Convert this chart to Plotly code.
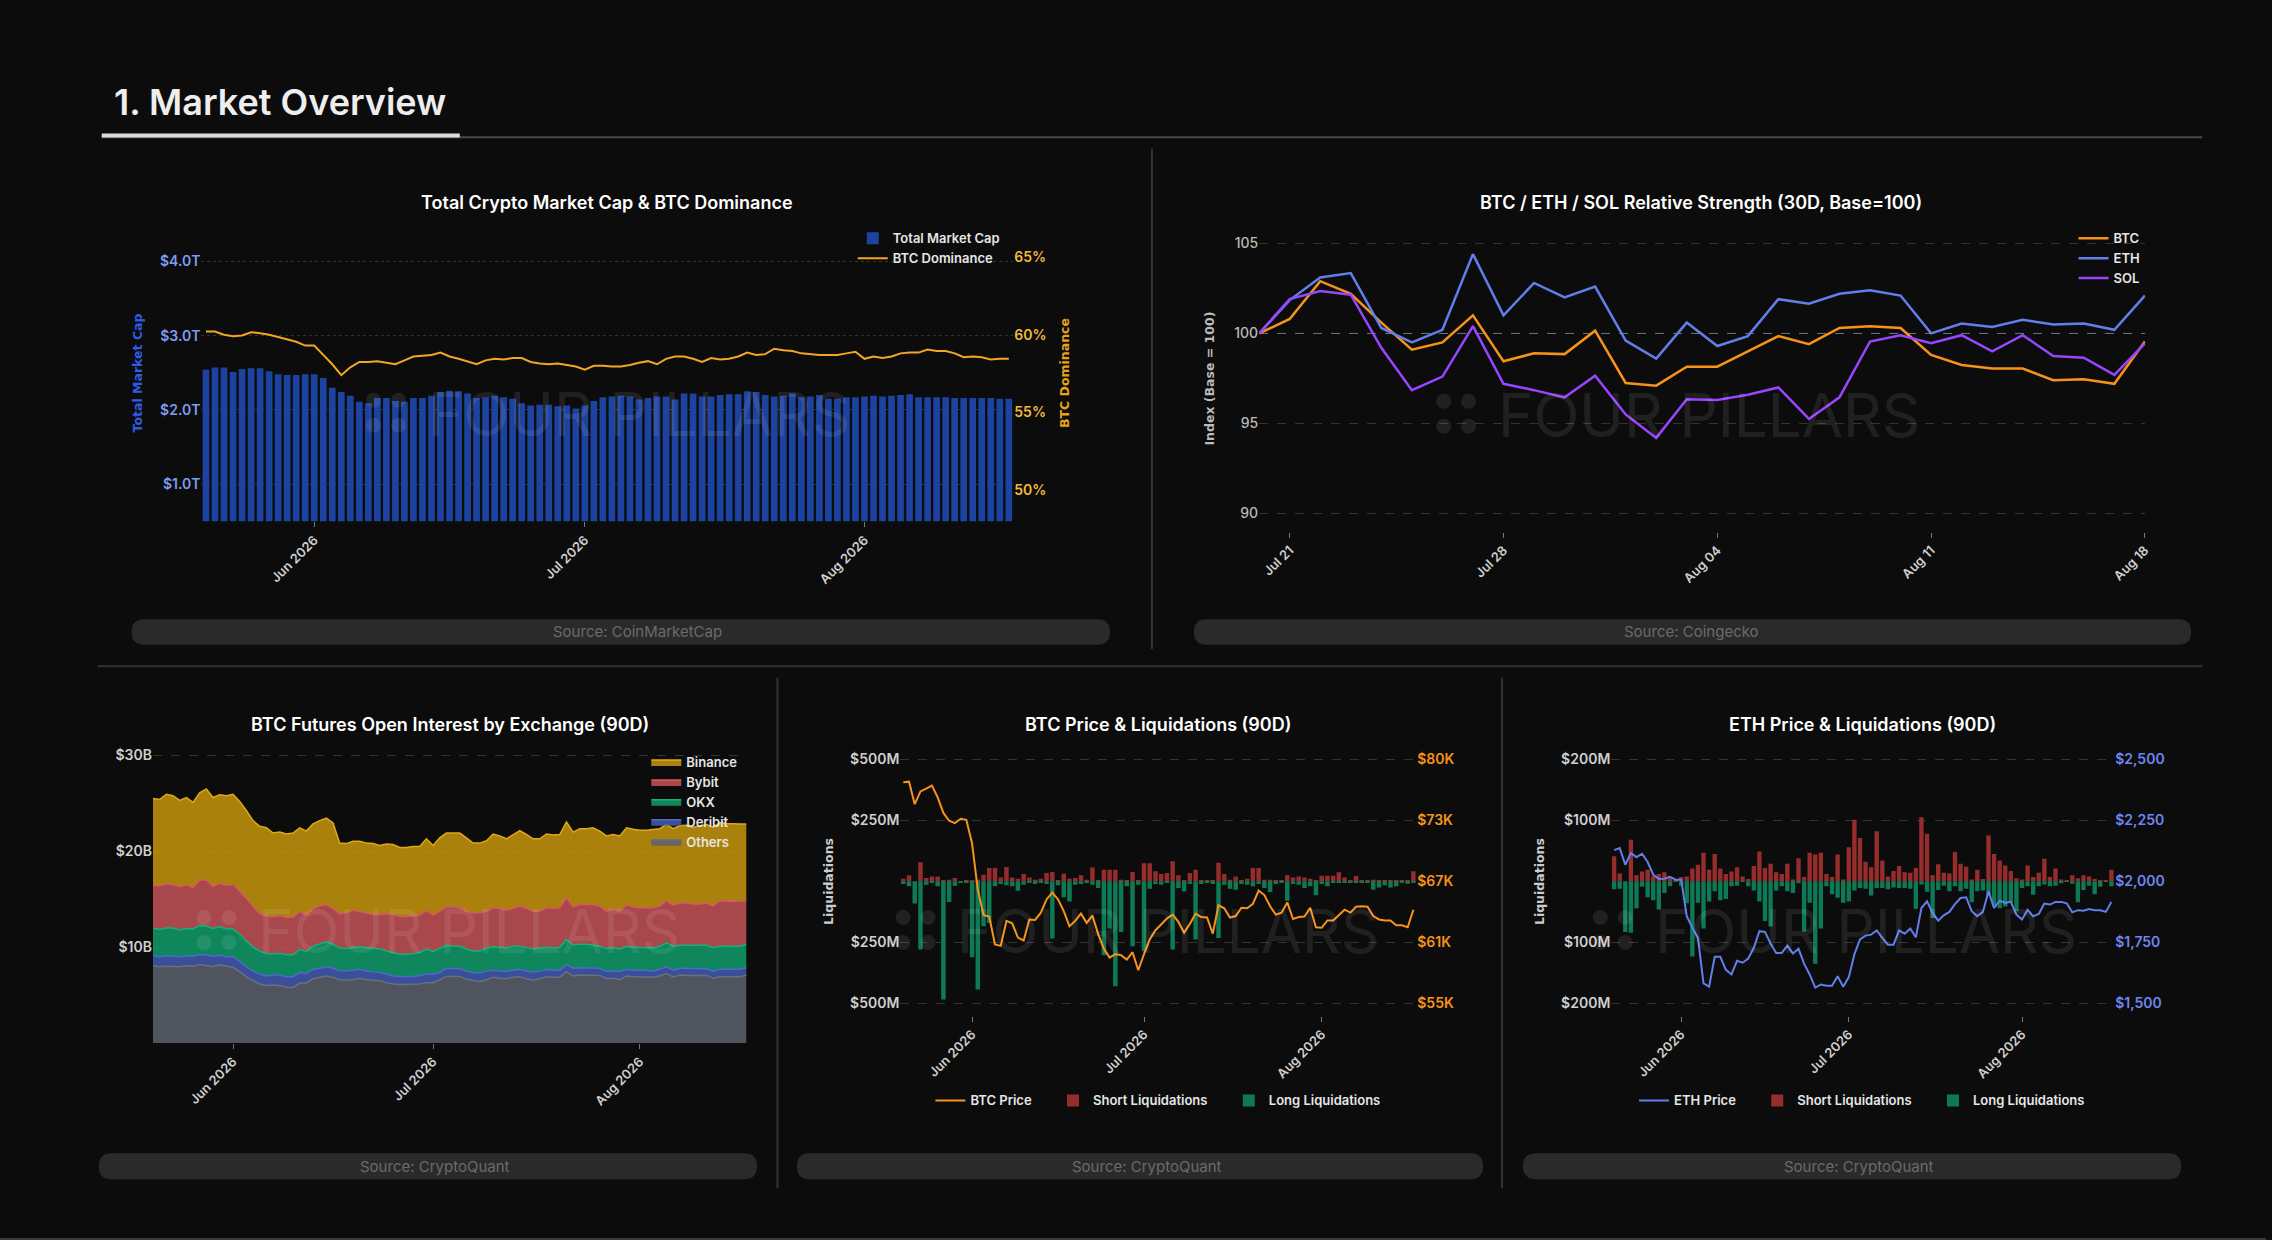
import pandas as pd
import plotly.graph_objects as go

W, H = 2272, 1240
BG = '#0c0c0c'

# ---- data ----
days90 = pd.date_range('2026-05-20', periods=90, freq='D')
days30 = pd.date_range('2026-07-20', periods=30, freq='D')

mcap_t = [2.54,2.57,2.57,2.51,2.55,2.56,2.56,2.52,2.48,2.47,
          2.47,2.48,2.48,2.43,2.30,2.24,2.19,2.11,2.09,2.16,
          2.16,2.12,2.11,2.16,2.16,2.19,2.24,2.26,2.25,2.22,
          2.16,2.17,2.19,2.17,2.15,2.09,2.06,2.07,2.07,2.05,
          2.06,2.02,2.06,2.12,2.17,2.18,2.19,2.18,2.14,2.16,
          2.18,2.18,2.14,2.22,2.22,2.18,2.18,2.20,2.21,2.21,
          2.25,2.24,2.20,2.18,2.19,2.22,2.17,2.18,2.20,2.15,
          2.15,2.17,2.17,2.18,2.19,2.18,2.19,2.20,2.21,2.17,
          2.17,2.17,2.17,2.16,2.16,2.16,2.16,2.16,2.15,2.15]
btc_dom = [60.2,60.2,60.0,59.9,59.95,60.15,60.1,60.0,59.85,59.7,
           59.55,59.3,59.3,58.7,58.1,57.4,57.9,58.25,58.25,58.3,
           58.2,58.1,58.35,58.6,58.65,58.7,58.85,58.6,58.45,58.3,
           58.1,58.35,58.45,58.4,58.5,58.5,58.25,58.15,58.1,58.15,
           58.05,57.95,57.75,58.0,58.0,57.95,57.95,58.05,58.2,58.3,
           58.1,58.45,58.6,58.6,58.45,58.25,58.5,58.4,58.45,58.6,
           58.85,58.7,58.75,59.1,59.0,58.95,58.8,58.75,58.7,58.7,
           58.7,58.8,58.9,58.45,58.6,58.5,58.6,58.8,58.85,58.85,
           59.05,58.95,58.95,58.8,58.55,58.6,58.55,58.4,58.45,58.45]
mcap_ticks = [1, 2, 3, 4]
mcap_ticktext = ['$1.0T', '$2.0T', '$3.0T', '$4.0T']
dom_ticks = [50, 55, 60, 65]
dom_ticktext = ['50%', '55%', '60%', '65%']

btc_rs = [100,100.8,102.9,102.2,100.6,99.1,99.5,101.0,98.45,98.9,
          98.85,100.15,97.25,97.1,98.15,98.15,99.0,99.85,99.4,100.3,
          100.4,100.3,98.8,98.25,98.05,98.05,97.4,97.45,97.2,99.55]
eth_rs = [100,101.85,103.1,103.35,100.3,99.5,100.2,104.4,101.0,102.8,
          102.0,102.6,99.6,98.6,100.6,99.3,99.85,101.9,101.65,102.2,
          102.4,102.1,100.0,100.55,100.35,100.75,100.5,100.55,100.2,102.1]
sol_rs = [100,101.9,102.35,102.15,99.2,96.85,97.6,100.4,97.2,96.85,
          96.45,97.65,95.5,94.2,96.35,96.3,96.6,97.0,95.25,96.45,
          99.55,99.9,99.45,99.9,99.0,99.9,98.75,98.65,97.7,99.45]

oi_others = [8.05,7.95,8.0,8.0,7.95,8.05,8.0,8.2,8.1,7.95,
             8.15,8.0,7.9,7.45,6.9,6.5,6.15,6.0,6.05,6.0,
             5.8,5.8,6.25,6.25,6.7,6.85,7.0,6.85,6.6,6.55,
             6.6,6.75,6.6,6.55,6.5,6.3,6.15,6.1,6.1,6.15,
             6.15,6.3,6.3,6.6,6.95,6.95,6.95,6.65,6.5,6.4,
             6.6,6.85,6.75,6.7,6.85,6.9,6.7,6.55,6.7,6.9,
             6.85,6.85,7.45,7.0,7.1,7.1,7.1,7.05,6.7,6.75,
             6.6,7.0,6.9,6.9,6.9,6.85,7.0,7.25,6.9,7.1,
             7.05,7.05,7.05,7.05,6.75,6.9,6.9,6.9,6.9,7.1]
oi_deribit = [1.05,1.05,1.1,1.05,1.05,1.05,1.05,1.0,1.1,1.1,
              1.0,1.0,1.1,1.05,1.05,1.0,1.05,1.0,1.05,1.1,
              1.1,1.1,1.1,1.0,1.0,0.95,0.95,0.95,0.9,0.95,
              1.0,0.95,0.9,0.9,0.85,0.9,0.85,0.85,0.85,0.8,
              0.9,0.9,0.9,0.75,0.85,0.85,0.8,0.85,0.85,0.9,
              0.9,0.75,0.75,0.75,0.75,0.8,0.8,0.85,0.8,0.8,
              0.75,0.75,0.7,0.8,0.75,0.75,0.75,0.75,0.75,0.75,
              0.85,0.7,0.7,0.7,0.7,0.65,0.7,0.7,0.7,0.7,
              0.75,0.7,0.7,0.7,0.75,0.8,0.8,0.8,0.8,0.75]
oi_okx = [2.9,2.85,2.9,2.95,2.8,2.85,2.85,3.05,3.0,2.9,
          3.0,2.9,2.9,2.85,2.7,2.5,2.4,2.3,2.2,2.25,
          2.3,2.3,2.4,2.3,2.4,2.55,2.6,2.5,2.4,2.35,
          2.35,2.35,2.45,2.4,2.45,2.4,2.45,2.3,2.3,2.35,
          2.4,2.6,2.35,2.55,2.4,2.3,2.35,2.3,2.25,2.3,
          2.4,2.45,2.5,2.5,2.5,2.4,2.45,2.4,2.4,2.3,
          2.35,2.4,2.65,2.4,2.45,2.45,2.35,2.3,2.4,2.45,
          2.35,2.4,2.4,2.35,2.35,2.45,2.4,2.5,2.5,2.4,
          2.4,2.45,2.45,2.45,2.45,2.4,2.4,2.4,2.4,2.45]
oi_bybit = [4.45,4.55,4.6,4.5,4.5,4.55,4.3,4.75,4.8,4.4,
            4.5,4.55,4.65,4.5,4.45,4.3,3.9,3.95,3.9,3.95,
            3.9,3.95,3.95,3.8,3.9,3.95,3.9,3.75,3.6,3.75,
            3.9,3.7,3.6,3.55,3.6,3.9,3.95,3.95,3.95,4.0,
            3.9,4.05,3.8,3.85,4.0,4.1,4.0,3.95,4.0,4.0,
            3.85,4.05,4.05,3.9,4.0,4.2,4.1,3.95,3.85,4.1,
            4.1,4.1,4.35,4.0,4.15,4.15,4.25,4.2,3.9,4.0,
            3.95,4.3,4.2,4.15,4.15,4.15,4.2,4.4,4.3,4.4,
            4.4,4.3,4.3,4.4,4.35,4.75,4.7,4.65,4.7,4.55]
oi_binance = [9.05,9.0,9.35,9.3,9.0,9.1,8.9,9.1,9.5,9.25,
              9.25,9.35,9.4,9.35,9.15,8.9,9.1,9.2,8.7,8.7,
              8.7,8.75,8.75,8.75,8.85,8.9,9.0,8.9,7.35,7.2,
              7.2,7.3,7.3,7.4,7.2,7.25,7.3,7.2,7.2,7.2,
              7.15,7.45,7.25,7.65,7.7,7.7,7.8,7.65,7.25,7.25,
              7.35,7.7,7.55,7.45,7.65,7.85,7.7,7.55,7.55,7.7,
              7.65,7.65,7.9,7.8,7.9,7.9,8.0,7.8,7.85,7.8,
              7.85,8.05,8.1,8.1,8.1,8.2,8.05,7.95,7.95,8.05,
              8.1,8.0,8.15,8.2,8.2,8.15,8.1,8.1,8.05,8.0]

btc_price = [77650,77700,75400,76700,77000,77300,76100,74500,73700,73450,
             73900,73800,71400,66650,64050,63900,61050,60900,63450,63200,
             61750,61450,63600,63550,64300,65650,66350,65650,64450,62900,
             63450,64200,63250,64000,62100,60600,59700,60050,59950,59500,
             60250,58400,60050,61550,62500,63100,63700,64100,63350,62250,
             63150,64200,63850,63800,62150,65050,64750,63800,63950,64800,
             64750,65200,66550,66100,64950,64100,64300,65350,63650,63850,
             63900,64800,62800,62750,63500,63500,64100,64600,64300,64900,
             64950,64900,63950,63600,63500,63500,63000,63000,62800,64600]
btc_short_liq = [11,25,0,78,14,20,20,3,7,14, 0,3,3,7,27,55,55,16,59,16,
                 11,30,16,7,11,34,38,3,31,11, 14,25,7,57,3,48,48,48,7,3,
                 38,3,74,74,41,30,34,82,25,5, 34,48,3,5,3,76,30,7,20,3,
                 11,55,55,7,7,3,3,25,16,20, 16,11,3,23,23,23,37,16,3,22,
                 3,3,7,3,5,3,3,3,3,41]
btc_long_liq = [11,20,91,279,14,7,20,484,84,18, 3,3,311,443,184,170,20,11,16,20,
                38,14,7,11,7,11,234,16,65,82, 14,11,7,14,27,302,193,429,207,20,
                266,14,286,30,11,14,7,279,27,41, 11,238,11,7,11,232,14,30,34,11,
                14,20,11,27,44,11,7,79,11,14, 27,20,57,11,20,7,7,3,5,3,
                5,3,34,25,16,25,20,3,10,3]
btc_ticks = [55000, 61250, 67500, 73750, 80000]
btc_ticktext = ['$55K', '$61K', '$67K', '$73K', '$80K']

eth_price = [2128,2136,2068,2116,2099,2113,2079,2027,2010,2011,
             2019,2007,2007,1857,1810,1769,1582,1569,1691,1691,
             1638,1619,1675,1667,1684,1728,1796,1793,1746,1707,
             1707,1737,1705,1724,1663,1619,1565,1578,1573,1573,
             1612,1569,1608,1701,1762,1778,1782,1799,1769,1741,
             1741,1799,1786,1807,1771,1891,1918,1871,1839,1861,
             1875,1907,1932,1935,1878,1857,1875,1959,1891,1921,
             1912,1916,1864,1844,1884,1857,1867,1909,1905,1916,
             1916,1910,1873,1882,1880,1887,1882,1882,1875,1916]
eth_short_liq = [41,13,0,68,10,16,19,8,12,15, 7,3,7,8,21,27,47,19,45,21,
                 12,16,23,8,4,25,49,22,29,15, 12,29,3,38,7,47,44,47,12,7,
                 44,3,56,101,71,32,23,82,34,8, 17,25,15,14,22,105,78,10,28,14,
                 13,48,29,24,3,19,4,75,45,34, 26,17,5,3,26,7,14,37,7,21,
                 3,1,10,5,10,8,4,1,2,19]
eth_long_liq = [13,12,83,84,44,9,26,31,46,19, 8,1,7,36,123,35,77,33,16,31,
                29,8,7,1,8,15,33,65,74,15, 8,16,19,3,82,35,135,77,8,21,
                27,35,33,15,11,12,23,11,11,13, 10,11,11,12,45,5,17,60,14,7,
                16,8,16,12,34,16,15,23,39,44, 41,35,49,11,8,22,8,5,8,7,
                3,1,4,34,14,7,21,9,1,8]
eth_ticks = [1500, 1750, 2000, 2250, 2500]
eth_ticktext = ['$1,500', '$1,750', '$2,000', '$2,250', '$2,500']

# ---- colours ----
C_BTC = '#F7931A'
C_ETH = '#627EEA'
C_SOL = '#9945FF'
C_BAR = '#1D43A0'
C_DOM = '#F5A524'
C_SHORT = '#962D2D'
C_LONG = '#0E7A55'
GRID = 'rgba(255,255,255,0.16)'
DAY = 86400000
NB = '\u00a0' * 5  # extra room between horizontal legend entries


def px(x):
    return x / W


def py(y):
    return 1 - y / H


fig = go.Figure()

# 1. market cap & dominance
fig.add_trace(go.Bar(x=days90, y=mcap_t, name='Total Market Cap', marker_color=C_BAR,
                     marker_line_width=0, width=0.74 * DAY, xaxis='x', yaxis='y', legend='legend'))
fig.add_trace(go.Scatter(x=days90, y=btc_dom, name='BTC Dominance', mode='lines',
                         line=dict(color=C_DOM, width=2), xaxis='x', yaxis='y2', legend='legend'))

# 2. relative strength
for nm, vals, col in [('BTC', btc_rs, C_BTC), ('ETH', eth_rs, C_ETH), ('SOL', sol_rs, C_SOL)]:
    fig.add_trace(go.Scatter(x=days30, y=vals, name=nm, mode='lines', line=dict(color=col, width=2.5),
                             xaxis='x2', yaxis='y3', legend='legend2'))

# 3. open interest (stacked)
oi_series = [('Others', oi_others, 'rgba(92,97,111,0.85)', '#6b7080'),
             ('Deribit', oi_deribit, 'rgba(68,92,178,0.85)', '#4d6ad0'),
             ('OKX', oi_okx, 'rgba(17,156,106,0.85)', '#18b07a'),
             ('Bybit', oi_bybit, 'rgba(198,84,88,0.85)', '#d45c5c'),
             ('Binance', oi_binance, 'rgba(200,151,14,0.85)', '#dcaa18')]
for nm, vals, fillc, linec in oi_series:
    fig.add_trace(go.Scatter(x=days90, y=vals, name=nm, mode='lines', stackgroup='oi',
                             fillcolor=fillc, line=dict(color=linec, width=1.5),
                             xaxis='x3', yaxis='y4', legend='legend3'))

# 4. BTC price & liquidations
fig.add_trace(go.Scatter(x=days90, y=btc_price, name='BTC Price' + NB, mode='lines',
                         line=dict(color=C_BTC, width=2), xaxis='x4', yaxis='y6', legend='legend4'))
fig.add_trace(go.Bar(x=days90, y=btc_short_liq, name='Short Liquidations' + NB, marker_color=C_SHORT,
                     marker_line_width=0, width=0.78 * DAY, xaxis='x4', yaxis='y5', legend='legend4'))
fig.add_trace(go.Bar(x=days90, y=[-v for v in btc_long_liq], name='Long Liquidations', marker_color=C_LONG,
                     marker_line_width=0, width=0.78 * DAY, xaxis='x4', yaxis='y5', legend='legend4'))

# 5. ETH price & liquidations
fig.add_trace(go.Scatter(x=days90, y=eth_price, name='ETH Price' + NB, mode='lines',
                         line=dict(color=C_ETH, width=2), xaxis='x5', yaxis='y8', legend='legend5'))
fig.add_trace(go.Bar(x=days90, y=eth_short_liq, name='Short Liquidations' + NB, marker_color=C_SHORT,
                     marker_line_width=0, width=0.78 * DAY, xaxis='x5', yaxis='y7', legend='legend5'))
fig.add_trace(go.Bar(x=days90, y=[-v for v in eth_long_liq], name='Long Liquidations', marker_color=C_LONG,
                     marker_line_width=0, width=0.78 * DAY, xaxis='x5', yaxis='y7', legend='legend5'))

xtick_font = dict(family='Inter', size=13, color='#cfcfcf', weight=600)
ytick_font = dict(family='Inter', size=14, color='#cfcfcf', weight=600)


def xdate(dom, anchor, rng, fmt='%b %Y', dtick='M1', tick0='2026-06-01'):
    return dict(domain=dom, anchor=anchor, type='date', range=rng, tickformat=fmt, dtick=dtick,
                tick0=tick0, tickangle=-45, ticks='outside', ticklen=5, tickcolor='#777',
                showgrid=False, zeroline=False, showline=False, tickfont=xtick_font)


def yax(dom, anchor, rng, **kw):
    d = dict(domain=dom, anchor=anchor, range=rng, showgrid=True, gridcolor=GRID, griddash='dash',
             zeroline=False, showline=False, ticks='', tickfont=ytick_font)
    d.update(kw)
    return d


def yright(over, anchor, rng, vals, text, col):
    return dict(overlaying=over, side='right', anchor=anchor, range=rng, tickmode='array',
                tickvals=vals, ticktext=text, showgrid=False, zeroline=False, showline=False,
                tickfont=dict(family='Inter', size=14, color=col, weight=600))


leg_font = dict(family='Inter', size=13, color='#e6e6e6', weight=600)

fig.update_layout(
    width=W, height=H, margin=dict(l=0, r=0, t=0, b=0),
    paper_bgcolor=BG, plot_bgcolor='rgba(0,0,0,0)',
    barmode='relative', showlegend=True,
    font=dict(family='Inter', color='#dddddd'),
    xaxis=xdate([px(202), px(1016)], 'y', ['2026-05-19 12:00', '2026-08-17 12:00']),
    yaxis=yax([py(519), py(221)], 'x', [0.5, 4.5], tickmode='array', tickvals=mcap_ticks,
              ticktext=mcap_ticktext, griddash='dot',
              tickfont=dict(family='Inter', size=14, color='#7c9cf0', weight=600)),
    yaxis2=yright('y', 'x', [48, 67.1], dom_ticks, dom_ticktext, '#f2b93b'),
    xaxis2=xdate([px(1262.5), px(2151)], 'y3', ['2026-07-20', '2026-08-18 00:20'], fmt='%b %d',
                 dtick=7 * DAY, tick0='2026-07-21'),
    yaxis3=yax([py(529.3), py(222)], 'x2', [89, 106], tickvals=[90, 95, 100, 105],
               tickfont=dict(family='Inter', size=14, color='#bbbbbb', weight=500)),
    xaxis3=xdate([px(153.4), px(748.5)], 'y4', ['2026-05-20', '2026-08-17']),
    yaxis4=yax([py(1042.4), py(749)], 'x3', [0, 30.5], tickmode='array', tickvals=[10, 20, 30],
               ticktext=['$10B', '$20B', '$30B']),
    xaxis4=xdate([px(902.8), px(1420)], 'y5', ['2026-05-19 12:00', '2026-08-17 12:00']),
    yaxis5=yax([py(1015), py(745.4)], 'x4', [-550, 550], tickmode='array', tickvals=[-500, -250, 250, 500],
               ticktext=['$500M', '$250M', '$250M', '$500M']),
    yaxis6=yright('y5', 'x4', [53750, 81250], btc_ticks, btc_ticktext, C_BTC),
    xaxis5=xdate([px(1615.6), px(2119.8)], 'y7', ['2026-05-19 12:00', '2026-08-17 12:00']),
    yaxis7=yax([py(1015), py(745.4)], 'x5', [-220, 220], tickmode='array', tickvals=[-200, -100, 100, 200],
               ticktext=['$200M', '$100M', '$100M', '$200M']),
    yaxis8=yright('y7', 'x5', [1450, 2550], eth_ticks, eth_ticktext, '#6f86f0'),
    legend=dict(x=px(855), y=py(220), xanchor='left', yanchor='top', bgcolor='rgba(0,0,0,0)',
                font=leg_font, tracegroupgap=0),
    legend2=dict(x=px(2079), y=py(220), xanchor='left', yanchor='top', bgcolor='rgba(0,0,0,0)',
                 font=leg_font),
    legend3=dict(x=px(648), y=py(745.5), xanchor='left', yanchor='top', bgcolor='rgba(0,0,0,0)',
                 font=leg_font, traceorder='reversed'),
    legend4=dict(x=px(1161), y=py(1100), xanchor='center', yanchor='middle', orientation='h',
                 bgcolor='rgba(0,0,0,0)', font=leg_font),
    legend5=dict(x=px(1867), y=py(1100), xanchor='center', yanchor='middle', orientation='h',
                 bgcolor='rgba(0,0,0,0)', font=leg_font),
)

shapes = []
ann = []


def line(x0, y0, x1, y1, color, w):
    shapes.append(dict(type='line', xref='paper', yref='paper', x0=px(x0), y0=py(y0), x1=px(x1), y1=py(y1),
                       line=dict(color=color, width=w), layer='below'))


def pill(x0, x1, y0, y1, text, tx):
    r = (y1 - y0) / 2
    ym = (y0 + y1) / 2
    p = lambda x, y: f'{px(x):.6f},{py(y):.6f}'
    path = (f'M {p(x0 + r, y0)} L {p(x1 - r, y0)} Q {p(x1, y0)} {p(x1, ym)} Q {p(x1, y1)} {p(x1 - r, y1)} '
            f'L {p(x0 + r, y1)} Q {p(x0, y1)} {p(x0, ym)} Q {p(x0, y0)} {p(x0 + r, y0)} Z')
    shapes.append(dict(type='path', xref='paper', yref='paper', path=path, fillcolor='#2a2a2a',
                       line=dict(width=0), layer='below'))
    ann.append(dict(text=text, x=px(tx), y=py(ym), xref='paper', yref='paper', showarrow=False,
                    xanchor='center', yanchor='middle', font=dict(family='Inter', size=15, color='#6a6a6a')))


def watermark(cx, cy):
    left = cx - 240
    for dx in (7.5, 32.5):
        for dy in (-13.5, 11.5):
            x, y = left + dx, cy + dy
            shapes.append(dict(type='circle', xref='paper', yref='paper', x0=px(x - 7.5), x1=px(x + 7.5),
                               y0=py(y + 7.5), y1=py(y - 7.5), fillcolor='rgba(255,255,255,0.09)',
                               line=dict(width=0), layer='above'))
    ann.append(dict(text='FOUR PILLARS', x=px(left + 60), y=py(cy), xref='paper', yref='paper',
                    showarrow=False, xanchor='left', yanchor='middle',
                    font=dict(family='Inter', size=60, color='rgba(255,255,255,0.085)', weight=400)))


# header
line(102, 133.7, 2208, 133.7, '#4a4a4a', 2)
line(102, 132, 461, 132, '#dddddd', 4)
ann.append(dict(text='1. Market Overview', x=px(112), y=py(98), xref='paper', yref='paper',
                showarrow=False, xanchor='left', yanchor='middle',
                font=dict(family='Inter', size=36, color='#eeeeee', weight=600)))
# dividers
line(1155, 145, 1155, 647, '#333333', 2)
line(98, 664.5, 2208, 664.5, '#333333', 2)
line(779.5, 676, 779.5, 1188, '#333333', 2)
line(1506, 676, 1506, 1188, '#333333', 2)
line(0, 1239, W, 1239, '#3a3a3a', 2)

# source pills
pill(132, 1113, 617.3, 642.7, 'Source: CoinMarketCap', 639)
pill(1197, 2197, 617.3, 642.7, 'Source: Coingecko', 1696)
pill(99, 759, 1153, 1179, 'Source: CryptoQuant', 436.5)
pill(799, 1487, 1153, 1179, 'Source: CryptoQuant', 1150.5)
pill(1527, 2187, 1153, 1179, 'Source: CryptoQuant', 1863.5)

# chart titles
for t, x, y in [('Total Crypto Market Cap & BTC Dominance', 609, 199),
                ('BTC / ETH / SOL Relative Strength (30D, Base=100)', 1706, 199),
                ('BTC Futures Open Interest by Exchange (90D)', 451, 723),
                ('BTC Price & Liquidations (90D)', 1161, 723),
                ('ETH Price & Liquidations (90D)', 1867, 723)]:
    ann.append(dict(text=t, x=px(x), y=py(y), xref='paper', yref='paper', showarrow=False,
                    xanchor='center', yanchor='middle',
                    font=dict(family='Inter', size=18, color='#ffffff', weight=600)))

# axis titles
for t, x, y, col in [('Total Market Cap', 138, 370, '#2e5ce6'),
                     ('BTC Dominance', 1068, 370, '#e8a317'),
                     ('Index (Base = 100)', 1213, 376, '#bbbbbb'),
                     ('Liquidations', 830, 880, '#cccccc'),
                     ('Liquidations', 1543, 880, '#cccccc')]:
    ann.append(dict(text=t, x=px(x), y=py(y), xref='paper', yref='paper', showarrow=False, textangle=-90,
                    xanchor='center', yanchor='middle',
                    font=dict(family='DejaVu Sans', size=12.5, color=col, weight='bold')))

# watermarks
for cx, cy in [(607, 411), (1680, 412), (437, 930), (1138, 930), (1837, 930)]:
    watermark(cx, cy)

# base=100 reference
shapes.append(dict(type='line', xref='x2 domain', yref='y3', x0=0, x1=1, y0=100, y1=100,
                   line=dict(color='rgba(140,155,190,0.55)', width=1, dash='dash'), layer='below'))

fig.update_layout(shapes=shapes, annotations=ann)

fig.write_html('out.html', config={'displayModeBar': False},
               post_script="document.body.style.margin='0';document.body.style.background='#0c0c0c';")
